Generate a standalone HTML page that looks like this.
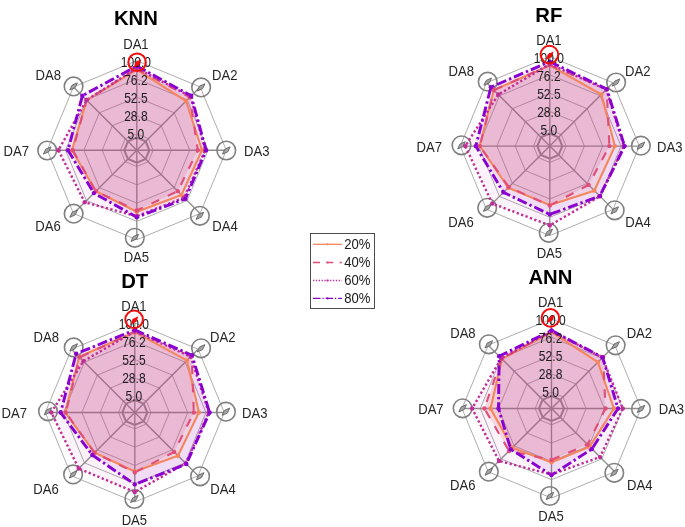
<!DOCTYPE html>
<html><head><meta charset="utf-8"><title>Radar charts</title><style>html,body{margin:0;padding:0;background:#fff}svg{display:block}</style></head><body>
<svg width="685" height="527" viewBox="0 0 685 527" font-family="'Liberation Sans', sans-serif">
<rect width="100%" height="100%" fill="#fff"/>
<g><polygon points="136.80,133.90 148.33,138.67 153.10,150.20 148.33,161.73 136.80,166.50 125.27,161.73 120.50,150.20 125.27,138.67" fill="none" stroke="#989898" stroke-width="0.8"/>
<polygon points="136.80,115.60 161.27,125.73 171.40,150.20 161.27,174.67 136.80,184.80 112.33,174.67 102.20,150.20 112.33,125.73" fill="none" stroke="#989898" stroke-width="0.8"/>
<polygon points="136.80,97.30 174.21,112.79 189.70,150.20 174.21,187.61 136.80,203.10 99.39,187.61 83.90,150.20 99.39,112.79" fill="none" stroke="#989898" stroke-width="0.8"/>
<polygon points="136.80,79.00 187.15,99.85 208.00,150.20 187.15,200.55 136.80,221.40 86.45,200.55 65.60,150.20 86.45,99.85" fill="none" stroke="#989898" stroke-width="0.8"/>
<polygon points="136.80,60.70 200.09,86.91 226.30,150.20 200.09,213.49 136.80,239.70 73.51,213.49 47.30,150.20 73.51,86.91" fill="none" stroke="#989898" stroke-width="0.8"/>
<line x1="136.80" y1="150.20" x2="136.80" y2="60.70" stroke="#8e8e8e" stroke-width="1.35"/>
<line x1="136.80" y1="150.20" x2="200.09" y2="86.91" stroke="#8e8e8e" stroke-width="1.35"/>
<line x1="136.80" y1="150.20" x2="226.30" y2="150.20" stroke="#8e8e8e" stroke-width="1.35"/>
<line x1="136.80" y1="150.20" x2="200.09" y2="213.49" stroke="#8e8e8e" stroke-width="1.35"/>
<line x1="136.80" y1="150.20" x2="136.80" y2="239.70" stroke="#8e8e8e" stroke-width="1.35"/>
<line x1="136.80" y1="150.20" x2="73.51" y2="213.49" stroke="#8e8e8e" stroke-width="1.35"/>
<line x1="136.80" y1="150.20" x2="47.30" y2="150.20" stroke="#8e8e8e" stroke-width="1.35"/>
<line x1="136.80" y1="150.20" x2="73.51" y2="86.91" stroke="#8e8e8e" stroke-width="1.35"/>
<polygon points="136.80,137.70 145.64,141.36 149.30,150.20 145.64,159.04 136.80,162.70 127.96,159.04 124.30,150.20 127.96,141.36" fill="none" stroke="#8e8e8e" stroke-width="2.0"/>
<circle cx="201.10" cy="87.40" r="9.3" fill="none" stroke="#808080" stroke-width="1.6"/>
<path d="M-3.8,3.6 L-1.55,-1.3 L3.8,-3.6 L1.55,1.3 Z" transform="translate(201.10,87.40)" fill="#a4a4a4" stroke="#626262" stroke-width="0.9" stroke-linejoin="miter"/>
<circle cx="226.30" cy="150.50" r="9.3" fill="none" stroke="#808080" stroke-width="1.6"/>
<path d="M-3.8,3.6 L-1.55,-1.3 L3.8,-3.6 L1.55,1.3 Z" transform="translate(226.30,150.50)" fill="#a4a4a4" stroke="#626262" stroke-width="0.9" stroke-linejoin="miter"/>
<circle cx="199.90" cy="215.80" r="9.3" fill="none" stroke="#808080" stroke-width="1.6"/>
<path d="M-3.8,3.6 L-1.55,-1.3 L3.8,-3.6 L1.55,1.3 Z" transform="translate(199.90,215.80)" fill="#a4a4a4" stroke="#626262" stroke-width="0.9" stroke-linejoin="miter"/>
<circle cx="134.80" cy="237.85" r="9.3" fill="none" stroke="#808080" stroke-width="1.6"/>
<path d="M-3.8,3.6 L-1.55,-1.3 L3.8,-3.6 L1.55,1.3 Z" transform="translate(134.80,237.85)" fill="#a4a4a4" stroke="#626262" stroke-width="0.9" stroke-linejoin="miter"/>
<circle cx="73.65" cy="213.65" r="9.3" fill="none" stroke="#808080" stroke-width="1.6"/>
<path d="M-3.8,3.6 L-1.55,-1.3 L3.8,-3.6 L1.55,1.3 Z" transform="translate(73.65,213.65)" fill="#a4a4a4" stroke="#626262" stroke-width="0.9" stroke-linejoin="miter"/>
<circle cx="47.20" cy="150.50" r="9.3" fill="none" stroke="#808080" stroke-width="1.6"/>
<path d="M-3.8,3.6 L-1.55,-1.3 L3.8,-3.6 L1.55,1.3 Z" transform="translate(47.20,150.50)" fill="#a4a4a4" stroke="#626262" stroke-width="0.9" stroke-linejoin="miter"/>
<circle cx="73.57" cy="86.43" r="9.3" fill="none" stroke="#808080" stroke-width="1.6"/>
<path d="M-3.8,3.6 L-1.55,-1.3 L3.8,-3.6 L1.55,1.3 Z" transform="translate(73.57,86.43)" fill="#a4a4a4" stroke="#626262" stroke-width="0.9" stroke-linejoin="miter"/>
<polygon points="136.80,69.70 186.01,100.99 202.00,150.20 181.49,194.89 136.80,211.80 95.79,191.21 72.00,150.20 86.67,100.07" fill="#F4855C" fill-opacity="0.11" stroke="none"/>
<polygon points="136.80,68.70 189.83,97.17 197.80,150.20 177.74,191.14 136.80,210.50 95.79,191.21 72.80,150.20 86.67,100.07" fill="#DE4E78" fill-opacity="0.17" stroke="none"/>
<polygon points="136.80,68.20 190.54,96.46 205.30,150.20 184.18,197.58 136.80,216.20 84.69,202.31 58.40,150.20 86.60,100.00" fill="#BF2E98" fill-opacity="0.06" stroke="none"/>
<polygon points="136.80,66.00 191.18,95.82 206.10,150.20 185.38,198.78 136.80,217.20 93.88,193.12 68.00,150.20 82.35,95.75" fill="#8A00D0" fill-opacity="0.09" stroke="none"/>
<polygon points="136.80,69.70 186.01,100.99 202.00,150.20 181.49,194.89 136.80,211.80 95.79,191.21 72.00,150.20 86.67,100.07" fill="none" stroke="#F4855C" stroke-width="2.1" stroke-linejoin="miter"/>
<polygon points="136.80,68.70 189.83,97.17 197.80,150.20 177.74,191.14 136.80,210.50 95.79,191.21 72.80,150.20 86.67,100.07" fill="none" stroke="#DE4E78" stroke-width="2.1" stroke-linejoin="miter" stroke-dasharray="8.5 9.5"/>
<polygon points="136.80,68.20 190.54,96.46 205.30,150.20 184.18,197.58 136.80,216.20 84.69,202.31 58.40,150.20 86.60,100.00" fill="none" stroke="#BF2E98" stroke-width="2.4" stroke-linejoin="miter" stroke-dasharray="2.3 2.4"/>
<polygon points="136.80,66.00 191.18,95.82 206.10,150.20 185.38,198.78 136.80,217.20 93.88,193.12 68.00,150.20 82.35,95.75" fill="none" stroke="#8A00D0" stroke-width="2.9" stroke-linejoin="miter" stroke-dasharray="10 3 2.4 3"/>
<circle cx="136.80" cy="69.70" r="2.2" fill="#F4855C"/>
<circle cx="186.01" cy="100.99" r="2.2" fill="#F4855C"/>
<circle cx="202.00" cy="150.20" r="2.2" fill="#F4855C"/>
<circle cx="181.49" cy="194.89" r="2.2" fill="#F4855C"/>
<circle cx="136.80" cy="211.80" r="2.2" fill="#F4855C"/>
<circle cx="95.79" cy="191.21" r="2.2" fill="#F4855C"/>
<circle cx="72.00" cy="150.20" r="2.2" fill="#F4855C"/>
<circle cx="86.67" cy="100.07" r="2.2" fill="#F4855C"/>
<circle cx="136.80" cy="68.70" r="2.2" fill="#DE4E78"/>
<circle cx="189.83" cy="97.17" r="2.2" fill="#DE4E78"/>
<circle cx="197.80" cy="150.20" r="2.2" fill="#DE4E78"/>
<circle cx="177.74" cy="191.14" r="2.2" fill="#DE4E78"/>
<circle cx="136.80" cy="210.50" r="2.2" fill="#DE4E78"/>
<circle cx="95.79" cy="191.21" r="2.2" fill="#DE4E78"/>
<circle cx="72.80" cy="150.20" r="2.2" fill="#DE4E78"/>
<circle cx="86.67" cy="100.07" r="2.2" fill="#DE4E78"/>
<circle cx="136.80" cy="68.20" r="2.2" fill="#BF2E98"/>
<circle cx="190.54" cy="96.46" r="2.2" fill="#BF2E98"/>
<circle cx="205.30" cy="150.20" r="2.2" fill="#BF2E98"/>
<circle cx="184.18" cy="197.58" r="2.2" fill="#BF2E98"/>
<circle cx="136.80" cy="216.20" r="2.2" fill="#BF2E98"/>
<circle cx="84.69" cy="202.31" r="2.2" fill="#BF2E98"/>
<circle cx="58.40" cy="150.20" r="2.2" fill="#BF2E98"/>
<circle cx="86.60" cy="100.00" r="2.2" fill="#BF2E98"/>
<circle cx="136.80" cy="66.00" r="2.2" fill="#8A00D0"/>
<circle cx="191.18" cy="95.82" r="2.2" fill="#8A00D0"/>
<circle cx="206.10" cy="150.20" r="2.2" fill="#8A00D0"/>
<circle cx="185.38" cy="198.78" r="2.2" fill="#8A00D0"/>
<circle cx="136.80" cy="217.20" r="2.2" fill="#8A00D0"/>
<circle cx="93.88" cy="193.12" r="2.2" fill="#8A00D0"/>
<circle cx="68.00" cy="150.20" r="2.2" fill="#8A00D0"/>
<circle cx="82.35" cy="95.75" r="2.2" fill="#8A00D0"/>
<text transform="translate(135.90,67.00) scale(0.875,1)" font-size="13.8" text-anchor="middle" fill="#1c1c1c">100.0</text>
<text transform="translate(135.90,85.00) scale(0.875,1)" font-size="13.8" text-anchor="middle" fill="#1c1c1c">76.2</text>
<text transform="translate(135.90,103.00) scale(0.875,1)" font-size="13.8" text-anchor="middle" fill="#1c1c1c">52.5</text>
<text transform="translate(135.90,121.00) scale(0.875,1)" font-size="13.8" text-anchor="middle" fill="#1c1c1c">28.8</text>
<text transform="translate(135.90,139.00) scale(0.875,1)" font-size="13.8" text-anchor="middle" fill="#1c1c1c">5.0</text>
<circle cx="137.10" cy="62.30" r="8.8" fill="none" stroke="#f20d0d" stroke-width="2"/>
<path d="M-3.8,4.3 L-2.0,-1.2 L3.8,-4.0 L2.0,1.5 Z" transform="translate(137.50,63.20)" fill="#f20d0d"/>
<text transform="translate(135.90,49.10) scale(0.950,1)" font-size="13.8" text-anchor="middle" fill="#262626">DA1</text>
<text transform="translate(224.69,79.91) scale(0.950,1)" font-size="13.8" text-anchor="middle" fill="#262626">DA2</text>
<text transform="translate(256.70,155.90) scale(0.950,1)" font-size="13.8" text-anchor="middle" fill="#262626">DA3</text>
<text transform="translate(224.99,231.29) scale(0.950,1)" font-size="13.8" text-anchor="middle" fill="#262626">DA4</text>
<text transform="translate(136.35,262.40) scale(0.950,1)" font-size="13.8" text-anchor="middle" fill="#262626">DA5</text>
<text transform="translate(48.01,231.29) scale(0.950,1)" font-size="13.8" text-anchor="middle" fill="#262626">DA6</text>
<text transform="translate(16.20,155.90) scale(0.950,1)" font-size="13.8" text-anchor="middle" fill="#262626">DA7</text>
<text transform="translate(48.21,79.91) scale(0.950,1)" font-size="13.8" text-anchor="middle" fill="#262626">DA8</text>
<text transform="translate(135.90,25.00) scale(1.000,1)" font-size="20.3" text-anchor="middle" fill="#000" font-weight="bold">KNN</text></g>
<g><polygon points="549.80,129.80 561.33,134.57 566.10,146.10 561.33,157.63 549.80,162.40 538.27,157.63 533.50,146.10 538.27,134.57" fill="none" stroke="#989898" stroke-width="0.8"/>
<polygon points="549.80,111.50 574.27,121.63 584.40,146.10 574.27,170.57 549.80,180.70 525.33,170.57 515.20,146.10 525.33,121.63" fill="none" stroke="#989898" stroke-width="0.8"/>
<polygon points="549.80,93.20 587.21,108.69 602.70,146.10 587.21,183.51 549.80,199.00 512.39,183.51 496.90,146.10 512.39,108.69" fill="none" stroke="#989898" stroke-width="0.8"/>
<polygon points="549.80,74.90 600.15,95.75 621.00,146.10 600.15,196.45 549.80,217.30 499.45,196.45 478.60,146.10 499.45,95.75" fill="none" stroke="#989898" stroke-width="0.8"/>
<polygon points="549.80,56.60 613.09,82.81 639.30,146.10 613.09,209.39 549.80,235.60 486.51,209.39 460.30,146.10 486.51,82.81" fill="none" stroke="#989898" stroke-width="0.8"/>
<line x1="549.80" y1="146.10" x2="549.80" y2="56.60" stroke="#8e8e8e" stroke-width="1.35"/>
<line x1="549.80" y1="146.10" x2="613.09" y2="82.81" stroke="#8e8e8e" stroke-width="1.35"/>
<line x1="549.80" y1="146.10" x2="639.30" y2="146.10" stroke="#8e8e8e" stroke-width="1.35"/>
<line x1="549.80" y1="146.10" x2="613.09" y2="209.39" stroke="#8e8e8e" stroke-width="1.35"/>
<line x1="549.80" y1="146.10" x2="549.80" y2="235.60" stroke="#8e8e8e" stroke-width="1.35"/>
<line x1="549.80" y1="146.10" x2="486.51" y2="209.39" stroke="#8e8e8e" stroke-width="1.35"/>
<line x1="549.80" y1="146.10" x2="460.30" y2="146.10" stroke="#8e8e8e" stroke-width="1.35"/>
<line x1="549.80" y1="146.10" x2="486.51" y2="82.81" stroke="#8e8e8e" stroke-width="1.35"/>
<polygon points="549.80,133.60 558.64,137.26 562.30,146.10 558.64,154.94 549.80,158.60 540.96,154.94 537.30,146.10 540.96,137.26" fill="none" stroke="#8e8e8e" stroke-width="2.0"/>
<circle cx="616.10" cy="82.50" r="9.3" fill="none" stroke="#808080" stroke-width="1.6"/>
<path d="M-3.8,3.6 L-1.55,-1.3 L3.8,-3.6 L1.55,1.3 Z" transform="translate(616.10,82.50)" fill="#a4a4a4" stroke="#626262" stroke-width="0.9" stroke-linejoin="miter"/>
<circle cx="640.90" cy="145.70" r="9.3" fill="none" stroke="#808080" stroke-width="1.6"/>
<path d="M-3.8,3.6 L-1.55,-1.3 L3.8,-3.6 L1.55,1.3 Z" transform="translate(640.90,145.70)" fill="#a4a4a4" stroke="#626262" stroke-width="0.9" stroke-linejoin="miter"/>
<circle cx="614.70" cy="210.35" r="9.3" fill="none" stroke="#808080" stroke-width="1.6"/>
<path d="M-3.8,3.6 L-1.55,-1.3 L3.8,-3.6 L1.55,1.3 Z" transform="translate(614.70,210.35)" fill="#a4a4a4" stroke="#626262" stroke-width="0.9" stroke-linejoin="miter"/>
<circle cx="548.70" cy="232.80" r="9.3" fill="none" stroke="#808080" stroke-width="1.6"/>
<path d="M-3.8,3.6 L-1.55,-1.3 L3.8,-3.6 L1.55,1.3 Z" transform="translate(548.70,232.80)" fill="#a4a4a4" stroke="#626262" stroke-width="0.9" stroke-linejoin="miter"/>
<circle cx="487.20" cy="207.80" r="9.3" fill="none" stroke="#808080" stroke-width="1.6"/>
<path d="M-3.8,3.6 L-1.55,-1.3 L3.8,-3.6 L1.55,1.3 Z" transform="translate(487.20,207.80)" fill="#a4a4a4" stroke="#626262" stroke-width="0.9" stroke-linejoin="miter"/>
<circle cx="461.50" cy="145.30" r="9.3" fill="none" stroke="#808080" stroke-width="1.6"/>
<path d="M-3.8,3.6 L-1.55,-1.3 L3.8,-3.6 L1.55,1.3 Z" transform="translate(461.50,145.30)" fill="#a4a4a4" stroke="#626262" stroke-width="0.9" stroke-linejoin="miter"/>
<circle cx="487.70" cy="81.70" r="9.3" fill="none" stroke="#808080" stroke-width="1.6"/>
<path d="M-3.8,3.6 L-1.55,-1.3 L3.8,-3.6 L1.55,1.3 Z" transform="translate(487.70,81.70)" fill="#a4a4a4" stroke="#626262" stroke-width="0.9" stroke-linejoin="miter"/>
<polygon points="549.80,65.30 601.35,94.55 614.90,146.10 594.35,190.65 549.80,205.10 508.22,187.68 479.80,146.10 493.73,90.03" fill="#F4855C" fill-opacity="0.11" stroke="none"/>
<polygon points="549.80,65.10 606.72,89.18 609.40,146.10 588.62,184.92 549.80,205.50 508.79,187.11 479.80,146.10 493.94,90.24" fill="#DE4E78" fill-opacity="0.17" stroke="none"/>
<polygon points="549.80,64.10 606.37,89.53 623.80,146.10 600.00,196.30 549.80,225.40 492.31,203.59 465.30,146.10 498.25,94.55" fill="#BF2E98" fill-opacity="0.06" stroke="none"/>
<polygon points="549.80,61.60 606.79,89.11 624.60,146.10 599.79,196.09 549.80,214.40 503.48,192.42 475.80,146.10 490.90,87.20" fill="#8A00D0" fill-opacity="0.09" stroke="none"/>
<polygon points="549.80,65.30 601.35,94.55 614.90,146.10 594.35,190.65 549.80,205.10 508.22,187.68 479.80,146.10 493.73,90.03" fill="none" stroke="#F4855C" stroke-width="2.1" stroke-linejoin="miter"/>
<polygon points="549.80,65.10 606.72,89.18 609.40,146.10 588.62,184.92 549.80,205.50 508.79,187.11 479.80,146.10 493.94,90.24" fill="none" stroke="#DE4E78" stroke-width="2.1" stroke-linejoin="miter" stroke-dasharray="8.5 9.5"/>
<polygon points="549.80,64.10 606.37,89.53 623.80,146.10 600.00,196.30 549.80,225.40 492.31,203.59 465.30,146.10 498.25,94.55" fill="none" stroke="#BF2E98" stroke-width="2.4" stroke-linejoin="miter" stroke-dasharray="2.3 2.4"/>
<polygon points="549.80,61.60 606.79,89.11 624.60,146.10 599.79,196.09 549.80,214.40 503.48,192.42 475.80,146.10 490.90,87.20" fill="none" stroke="#8A00D0" stroke-width="2.9" stroke-linejoin="miter" stroke-dasharray="10 3 2.4 3"/>
<circle cx="549.80" cy="65.30" r="2.2" fill="#F4855C"/>
<circle cx="601.35" cy="94.55" r="2.2" fill="#F4855C"/>
<circle cx="614.90" cy="146.10" r="2.2" fill="#F4855C"/>
<circle cx="594.35" cy="190.65" r="2.2" fill="#F4855C"/>
<circle cx="549.80" cy="205.10" r="2.2" fill="#F4855C"/>
<circle cx="508.22" cy="187.68" r="2.2" fill="#F4855C"/>
<circle cx="479.80" cy="146.10" r="2.2" fill="#F4855C"/>
<circle cx="493.73" cy="90.03" r="2.2" fill="#F4855C"/>
<circle cx="549.80" cy="65.10" r="2.2" fill="#DE4E78"/>
<circle cx="606.72" cy="89.18" r="2.2" fill="#DE4E78"/>
<circle cx="609.40" cy="146.10" r="2.2" fill="#DE4E78"/>
<circle cx="588.62" cy="184.92" r="2.2" fill="#DE4E78"/>
<circle cx="549.80" cy="205.50" r="2.2" fill="#DE4E78"/>
<circle cx="508.79" cy="187.11" r="2.2" fill="#DE4E78"/>
<circle cx="479.80" cy="146.10" r="2.2" fill="#DE4E78"/>
<circle cx="493.94" cy="90.24" r="2.2" fill="#DE4E78"/>
<circle cx="549.80" cy="64.10" r="2.2" fill="#BF2E98"/>
<circle cx="606.37" cy="89.53" r="2.2" fill="#BF2E98"/>
<circle cx="623.80" cy="146.10" r="2.2" fill="#BF2E98"/>
<circle cx="600.00" cy="196.30" r="2.2" fill="#BF2E98"/>
<circle cx="549.80" cy="225.40" r="2.2" fill="#BF2E98"/>
<circle cx="492.31" cy="203.59" r="2.2" fill="#BF2E98"/>
<circle cx="465.30" cy="146.10" r="2.2" fill="#BF2E98"/>
<circle cx="498.25" cy="94.55" r="2.2" fill="#BF2E98"/>
<circle cx="549.80" cy="61.60" r="2.2" fill="#8A00D0"/>
<circle cx="606.79" cy="89.11" r="2.2" fill="#8A00D0"/>
<circle cx="624.60" cy="146.10" r="2.2" fill="#8A00D0"/>
<circle cx="599.79" cy="196.09" r="2.2" fill="#8A00D0"/>
<circle cx="549.80" cy="214.40" r="2.2" fill="#8A00D0"/>
<circle cx="503.48" cy="192.42" r="2.2" fill="#8A00D0"/>
<circle cx="475.80" cy="146.10" r="2.2" fill="#8A00D0"/>
<circle cx="490.90" cy="87.20" r="2.2" fill="#8A00D0"/>
<text transform="translate(548.90,62.90) scale(0.875,1)" font-size="13.8" text-anchor="middle" fill="#1c1c1c">100.0</text>
<text transform="translate(548.90,80.90) scale(0.875,1)" font-size="13.8" text-anchor="middle" fill="#1c1c1c">76.2</text>
<text transform="translate(548.90,98.90) scale(0.875,1)" font-size="13.8" text-anchor="middle" fill="#1c1c1c">52.5</text>
<text transform="translate(548.90,116.90) scale(0.875,1)" font-size="13.8" text-anchor="middle" fill="#1c1c1c">28.8</text>
<text transform="translate(548.90,134.90) scale(0.875,1)" font-size="13.8" text-anchor="middle" fill="#1c1c1c">5.0</text>
<circle cx="549.40" cy="54.60" r="8.8" fill="none" stroke="#f20d0d" stroke-width="2"/>
<path d="M-3.8,4.3 L-2.0,-1.2 L3.8,-4.0 L2.0,1.5 Z" transform="translate(549.80,55.50)" fill="#f20d0d"/>
<text transform="translate(548.90,45.00) scale(0.950,1)" font-size="13.8" text-anchor="middle" fill="#262626">DA1</text>
<text transform="translate(637.69,75.81) scale(0.950,1)" font-size="13.8" text-anchor="middle" fill="#262626">DA2</text>
<text transform="translate(669.70,151.80) scale(0.950,1)" font-size="13.8" text-anchor="middle" fill="#262626">DA3</text>
<text transform="translate(637.99,227.19) scale(0.950,1)" font-size="13.8" text-anchor="middle" fill="#262626">DA4</text>
<text transform="translate(549.35,258.30) scale(0.950,1)" font-size="13.8" text-anchor="middle" fill="#262626">DA5</text>
<text transform="translate(461.01,227.19) scale(0.950,1)" font-size="13.8" text-anchor="middle" fill="#262626">DA6</text>
<text transform="translate(429.20,151.80) scale(0.950,1)" font-size="13.8" text-anchor="middle" fill="#262626">DA7</text>
<text transform="translate(461.21,75.81) scale(0.950,1)" font-size="13.8" text-anchor="middle" fill="#262626">DA8</text>
<text transform="translate(548.80,21.60) scale(1.000,1)" font-size="20.3" text-anchor="middle" fill="#000" font-weight="bold">RF</text></g>
<g><polygon points="134.80,396.20 146.33,400.97 151.10,412.50 146.33,424.03 134.80,428.80 123.27,424.03 118.50,412.50 123.27,400.97" fill="none" stroke="#989898" stroke-width="0.8"/>
<polygon points="134.80,377.90 159.27,388.03 169.40,412.50 159.27,436.97 134.80,447.10 110.33,436.97 100.20,412.50 110.33,388.03" fill="none" stroke="#989898" stroke-width="0.8"/>
<polygon points="134.80,359.60 172.21,375.09 187.70,412.50 172.21,449.91 134.80,465.40 97.39,449.91 81.90,412.50 97.39,375.09" fill="none" stroke="#989898" stroke-width="0.8"/>
<polygon points="134.80,341.30 185.15,362.15 206.00,412.50 185.15,462.85 134.80,483.70 84.45,462.85 63.60,412.50 84.45,362.15" fill="none" stroke="#989898" stroke-width="0.8"/>
<polygon points="134.80,323.00 198.09,349.21 224.30,412.50 198.09,475.79 134.80,502.00 71.51,475.79 45.30,412.50 71.51,349.21" fill="none" stroke="#989898" stroke-width="0.8"/>
<line x1="134.80" y1="412.50" x2="134.80" y2="323.00" stroke="#8e8e8e" stroke-width="1.35"/>
<line x1="134.80" y1="412.50" x2="198.09" y2="349.21" stroke="#8e8e8e" stroke-width="1.35"/>
<line x1="134.80" y1="412.50" x2="224.30" y2="412.50" stroke="#8e8e8e" stroke-width="1.35"/>
<line x1="134.80" y1="412.50" x2="198.09" y2="475.79" stroke="#8e8e8e" stroke-width="1.35"/>
<line x1="134.80" y1="412.50" x2="134.80" y2="502.00" stroke="#8e8e8e" stroke-width="1.35"/>
<line x1="134.80" y1="412.50" x2="71.51" y2="475.79" stroke="#8e8e8e" stroke-width="1.35"/>
<line x1="134.80" y1="412.50" x2="45.30" y2="412.50" stroke="#8e8e8e" stroke-width="1.35"/>
<line x1="134.80" y1="412.50" x2="71.51" y2="349.21" stroke="#8e8e8e" stroke-width="1.35"/>
<polygon points="134.80,400.00 143.64,403.66 147.30,412.50 143.64,421.34 134.80,425.00 125.96,421.34 122.30,412.50 125.96,403.66" fill="none" stroke="#8e8e8e" stroke-width="2.0"/>
<circle cx="201.06" cy="348.30" r="9.3" fill="none" stroke="#808080" stroke-width="1.6"/>
<path d="M-3.8,3.6 L-1.55,-1.3 L3.8,-3.6 L1.55,1.3 Z" transform="translate(201.06,348.30)" fill="#a4a4a4" stroke="#626262" stroke-width="0.9" stroke-linejoin="miter"/>
<circle cx="225.95" cy="411.70" r="9.3" fill="none" stroke="#808080" stroke-width="1.6"/>
<path d="M-3.8,3.6 L-1.55,-1.3 L3.8,-3.6 L1.55,1.3 Z" transform="translate(225.95,411.70)" fill="#a4a4a4" stroke="#626262" stroke-width="0.9" stroke-linejoin="miter"/>
<circle cx="200.10" cy="476.30" r="9.3" fill="none" stroke="#808080" stroke-width="1.6"/>
<path d="M-3.8,3.6 L-1.55,-1.3 L3.8,-3.6 L1.55,1.3 Z" transform="translate(200.10,476.30)" fill="#a4a4a4" stroke="#626262" stroke-width="0.9" stroke-linejoin="miter"/>
<circle cx="134.40" cy="499.00" r="9.3" fill="none" stroke="#808080" stroke-width="1.6"/>
<path d="M-3.8,3.6 L-1.55,-1.3 L3.8,-3.6 L1.55,1.3 Z" transform="translate(134.40,499.00)" fill="#a4a4a4" stroke="#626262" stroke-width="0.9" stroke-linejoin="miter"/>
<circle cx="73.10" cy="474.40" r="9.3" fill="none" stroke="#808080" stroke-width="1.6"/>
<path d="M-3.8,3.6 L-1.55,-1.3 L3.8,-3.6 L1.55,1.3 Z" transform="translate(73.10,474.40)" fill="#a4a4a4" stroke="#626262" stroke-width="0.9" stroke-linejoin="miter"/>
<circle cx="48.00" cy="411.30" r="9.3" fill="none" stroke="#808080" stroke-width="1.6"/>
<path d="M-3.8,3.6 L-1.55,-1.3 L3.8,-3.6 L1.55,1.3 Z" transform="translate(48.00,411.30)" fill="#a4a4a4" stroke="#626262" stroke-width="0.9" stroke-linejoin="miter"/>
<circle cx="73.70" cy="347.40" r="9.3" fill="none" stroke="#808080" stroke-width="1.6"/>
<path d="M-3.8,3.6 L-1.55,-1.3 L3.8,-3.6 L1.55,1.3 Z" transform="translate(73.70,347.40)" fill="#a4a4a4" stroke="#626262" stroke-width="0.9" stroke-linejoin="miter"/>
<polygon points="134.80,332.20 186.91,360.39 198.90,412.50 178.00,455.70 134.80,471.50 94.64,452.66 65.20,412.50 79.15,356.85" fill="#F4855C" fill-opacity="0.11" stroke="none"/>
<polygon points="134.80,331.50 191.72,355.58 193.80,412.50 174.19,451.89 134.80,472.50 94.49,452.81 65.80,412.50 79.65,357.35" fill="#DE4E78" fill-opacity="0.17" stroke="none"/>
<polygon points="134.80,331.50 190.66,356.64 208.80,412.50 185.71,463.41 134.80,492.00 78.73,468.57 51.30,412.50 83.39,361.09" fill="#BF2E98" fill-opacity="0.06" stroke="none"/>
<polygon points="134.80,329.90 192.00,355.30 209.60,412.50 186.35,464.05 134.80,484.40 92.30,455.00 60.60,412.50 76.11,353.81" fill="#8A00D0" fill-opacity="0.09" stroke="none"/>
<polygon points="134.80,332.20 186.91,360.39 198.90,412.50 178.00,455.70 134.80,471.50 94.64,452.66 65.20,412.50 79.15,356.85" fill="none" stroke="#F4855C" stroke-width="2.1" stroke-linejoin="miter"/>
<polygon points="134.80,331.50 191.72,355.58 193.80,412.50 174.19,451.89 134.80,472.50 94.49,452.81 65.80,412.50 79.65,357.35" fill="none" stroke="#DE4E78" stroke-width="2.1" stroke-linejoin="miter" stroke-dasharray="8.5 9.5"/>
<polygon points="134.80,331.50 190.66,356.64 208.80,412.50 185.71,463.41 134.80,492.00 78.73,468.57 51.30,412.50 83.39,361.09" fill="none" stroke="#BF2E98" stroke-width="2.4" stroke-linejoin="miter" stroke-dasharray="2.3 2.4"/>
<polygon points="134.80,329.90 192.00,355.30 209.60,412.50 186.35,464.05 134.80,484.40 92.30,455.00 60.60,412.50 76.11,353.81" fill="none" stroke="#8A00D0" stroke-width="2.9" stroke-linejoin="miter" stroke-dasharray="10 3 2.4 3"/>
<circle cx="134.80" cy="332.20" r="2.2" fill="#F4855C"/>
<circle cx="186.91" cy="360.39" r="2.2" fill="#F4855C"/>
<circle cx="198.90" cy="412.50" r="2.2" fill="#F4855C"/>
<circle cx="178.00" cy="455.70" r="2.2" fill="#F4855C"/>
<circle cx="134.80" cy="471.50" r="2.2" fill="#F4855C"/>
<circle cx="94.64" cy="452.66" r="2.2" fill="#F4855C"/>
<circle cx="65.20" cy="412.50" r="2.2" fill="#F4855C"/>
<circle cx="79.15" cy="356.85" r="2.2" fill="#F4855C"/>
<circle cx="134.80" cy="331.50" r="2.2" fill="#DE4E78"/>
<circle cx="191.72" cy="355.58" r="2.2" fill="#DE4E78"/>
<circle cx="193.80" cy="412.50" r="2.2" fill="#DE4E78"/>
<circle cx="174.19" cy="451.89" r="2.2" fill="#DE4E78"/>
<circle cx="134.80" cy="472.50" r="2.2" fill="#DE4E78"/>
<circle cx="94.49" cy="452.81" r="2.2" fill="#DE4E78"/>
<circle cx="65.80" cy="412.50" r="2.2" fill="#DE4E78"/>
<circle cx="79.65" cy="357.35" r="2.2" fill="#DE4E78"/>
<circle cx="134.80" cy="331.50" r="2.2" fill="#BF2E98"/>
<circle cx="190.66" cy="356.64" r="2.2" fill="#BF2E98"/>
<circle cx="208.80" cy="412.50" r="2.2" fill="#BF2E98"/>
<circle cx="185.71" cy="463.41" r="2.2" fill="#BF2E98"/>
<circle cx="134.80" cy="492.00" r="2.2" fill="#BF2E98"/>
<circle cx="78.73" cy="468.57" r="2.2" fill="#BF2E98"/>
<circle cx="51.30" cy="412.50" r="2.2" fill="#BF2E98"/>
<circle cx="83.39" cy="361.09" r="2.2" fill="#BF2E98"/>
<circle cx="134.80" cy="329.90" r="2.2" fill="#8A00D0"/>
<circle cx="192.00" cy="355.30" r="2.2" fill="#8A00D0"/>
<circle cx="209.60" cy="412.50" r="2.2" fill="#8A00D0"/>
<circle cx="186.35" cy="464.05" r="2.2" fill="#8A00D0"/>
<circle cx="134.80" cy="484.40" r="2.2" fill="#8A00D0"/>
<circle cx="92.30" cy="455.00" r="2.2" fill="#8A00D0"/>
<circle cx="60.60" cy="412.50" r="2.2" fill="#8A00D0"/>
<circle cx="76.11" cy="353.81" r="2.2" fill="#8A00D0"/>
<text transform="translate(133.90,329.30) scale(0.875,1)" font-size="13.8" text-anchor="middle" fill="#1c1c1c">100.0</text>
<text transform="translate(133.90,347.30) scale(0.875,1)" font-size="13.8" text-anchor="middle" fill="#1c1c1c">76.2</text>
<text transform="translate(133.90,365.30) scale(0.875,1)" font-size="13.8" text-anchor="middle" fill="#1c1c1c">52.5</text>
<text transform="translate(133.90,383.30) scale(0.875,1)" font-size="13.8" text-anchor="middle" fill="#1c1c1c">28.8</text>
<text transform="translate(133.90,401.30) scale(0.875,1)" font-size="13.8" text-anchor="middle" fill="#1c1c1c">5.0</text>
<circle cx="134.10" cy="319.40" r="8.8" fill="none" stroke="#f20d0d" stroke-width="2"/>
<path d="M-3.8,4.3 L-2.0,-1.2 L3.8,-4.0 L2.0,1.5 Z" transform="translate(134.50,320.30)" fill="#f20d0d"/>
<text transform="translate(133.90,311.40) scale(0.950,1)" font-size="13.8" text-anchor="middle" fill="#262626">DA1</text>
<text transform="translate(222.69,342.21) scale(0.950,1)" font-size="13.8" text-anchor="middle" fill="#262626">DA2</text>
<text transform="translate(254.70,418.20) scale(0.950,1)" font-size="13.8" text-anchor="middle" fill="#262626">DA3</text>
<text transform="translate(222.99,493.59) scale(0.950,1)" font-size="13.8" text-anchor="middle" fill="#262626">DA4</text>
<text transform="translate(134.35,524.70) scale(0.950,1)" font-size="13.8" text-anchor="middle" fill="#262626">DA5</text>
<text transform="translate(46.01,493.59) scale(0.950,1)" font-size="13.8" text-anchor="middle" fill="#262626">DA6</text>
<text transform="translate(14.20,418.20) scale(0.950,1)" font-size="13.8" text-anchor="middle" fill="#262626">DA7</text>
<text transform="translate(46.21,342.21) scale(0.950,1)" font-size="13.8" text-anchor="middle" fill="#262626">DA8</text>
<text transform="translate(134.70,288.10) scale(1.000,1)" font-size="20.3" text-anchor="middle" fill="#000" font-weight="bold">DT</text></g>
<g><polygon points="551.50,392.20 563.03,396.97 567.80,408.50 563.03,420.03 551.50,424.80 539.97,420.03 535.20,408.50 539.97,396.97" fill="none" stroke="#989898" stroke-width="0.8"/>
<polygon points="551.50,373.90 575.97,384.03 586.10,408.50 575.97,432.97 551.50,443.10 527.03,432.97 516.90,408.50 527.03,384.03" fill="none" stroke="#989898" stroke-width="0.8"/>
<polygon points="551.50,355.60 588.91,371.09 604.40,408.50 588.91,445.91 551.50,461.40 514.09,445.91 498.60,408.50 514.09,371.09" fill="none" stroke="#989898" stroke-width="0.8"/>
<polygon points="551.50,337.30 601.85,358.15 622.70,408.50 601.85,458.85 551.50,479.70 501.15,458.85 480.30,408.50 501.15,358.15" fill="none" stroke="#989898" stroke-width="0.8"/>
<polygon points="551.50,319.00 614.79,345.21 641.00,408.50 614.79,471.79 551.50,498.00 488.21,471.79 462.00,408.50 488.21,345.21" fill="none" stroke="#989898" stroke-width="0.8"/>
<line x1="551.50" y1="408.50" x2="551.50" y2="319.00" stroke="#8e8e8e" stroke-width="1.35"/>
<line x1="551.50" y1="408.50" x2="614.79" y2="345.21" stroke="#8e8e8e" stroke-width="1.35"/>
<line x1="551.50" y1="408.50" x2="641.00" y2="408.50" stroke="#8e8e8e" stroke-width="1.35"/>
<line x1="551.50" y1="408.50" x2="614.79" y2="471.79" stroke="#8e8e8e" stroke-width="1.35"/>
<line x1="551.50" y1="408.50" x2="551.50" y2="498.00" stroke="#8e8e8e" stroke-width="1.35"/>
<line x1="551.50" y1="408.50" x2="488.21" y2="471.79" stroke="#8e8e8e" stroke-width="1.35"/>
<line x1="551.50" y1="408.50" x2="462.00" y2="408.50" stroke="#8e8e8e" stroke-width="1.35"/>
<line x1="551.50" y1="408.50" x2="488.21" y2="345.21" stroke="#8e8e8e" stroke-width="1.35"/>
<polygon points="551.50,396.00 560.34,399.66 564.00,408.50 560.34,417.34 551.50,421.00 542.66,417.34 539.00,408.50 542.66,399.66" fill="none" stroke="#8e8e8e" stroke-width="2.0"/>
<circle cx="615.60" cy="345.30" r="9.3" fill="none" stroke="#808080" stroke-width="1.6"/>
<path d="M-3.8,3.6 L-1.55,-1.3 L3.8,-3.6 L1.55,1.3 Z" transform="translate(615.60,345.30)" fill="#a4a4a4" stroke="#626262" stroke-width="0.9" stroke-linejoin="miter"/>
<circle cx="641.00" cy="408.90" r="9.3" fill="none" stroke="#808080" stroke-width="1.6"/>
<path d="M-3.8,3.6 L-1.55,-1.3 L3.8,-3.6 L1.55,1.3 Z" transform="translate(641.00,408.90)" fill="#a4a4a4" stroke="#626262" stroke-width="0.9" stroke-linejoin="miter"/>
<circle cx="614.30" cy="472.80" r="9.3" fill="none" stroke="#808080" stroke-width="1.6"/>
<path d="M-3.8,3.6 L-1.55,-1.3 L3.8,-3.6 L1.55,1.3 Z" transform="translate(614.30,472.80)" fill="#a4a4a4" stroke="#626262" stroke-width="0.9" stroke-linejoin="miter"/>
<circle cx="549.90" cy="496.00" r="9.3" fill="none" stroke="#808080" stroke-width="1.6"/>
<path d="M-3.8,3.6 L-1.55,-1.3 L3.8,-3.6 L1.55,1.3 Z" transform="translate(549.90,496.00)" fill="#a4a4a4" stroke="#626262" stroke-width="0.9" stroke-linejoin="miter"/>
<circle cx="488.80" cy="471.70" r="9.3" fill="none" stroke="#808080" stroke-width="1.6"/>
<path d="M-3.8,3.6 L-1.55,-1.3 L3.8,-3.6 L1.55,1.3 Z" transform="translate(488.80,471.70)" fill="#a4a4a4" stroke="#626262" stroke-width="0.9" stroke-linejoin="miter"/>
<circle cx="462.60" cy="408.30" r="9.3" fill="none" stroke="#808080" stroke-width="1.6"/>
<path d="M-3.8,3.6 L-1.55,-1.3 L3.8,-3.6 L1.55,1.3 Z" transform="translate(462.60,408.30)" fill="#a4a4a4" stroke="#626262" stroke-width="0.9" stroke-linejoin="miter"/>
<circle cx="488.80" cy="344.30" r="9.3" fill="none" stroke="#808080" stroke-width="1.6"/>
<path d="M-3.8,3.6 L-1.55,-1.3 L3.8,-3.6 L1.55,1.3 Z" transform="translate(488.80,344.30)" fill="#a4a4a4" stroke="#626262" stroke-width="0.9" stroke-linejoin="miter"/>
<polygon points="551.50,332.00 597.89,362.11 613.90,408.50 589.68,446.68 551.50,462.30 512.26,447.74 490.50,408.50 502.00,359.00" fill="#F4855C" fill-opacity="0.11" stroke="none"/>
<polygon points="551.50,331.50 603.12,356.88 605.50,408.50 587.56,444.56 551.50,459.90 509.07,450.93 484.40,408.50 501.65,358.65" fill="#DE4E78" fill-opacity="0.17" stroke="none"/>
<polygon points="551.50,331.00 602.41,357.59 622.80,408.50 600.08,457.08 551.50,474.50 499.03,460.97 472.10,408.50 501.30,358.30" fill="#BF2E98" fill-opacity="0.06" stroke="none"/>
<polygon points="551.50,330.50 602.62,357.38 618.00,408.50 591.95,448.95 551.50,475.10 510.77,449.23 498.50,408.50 499.17,356.17" fill="#8A00D0" fill-opacity="0.09" stroke="none"/>
<polygon points="551.50,332.00 597.89,362.11 613.90,408.50 589.68,446.68 551.50,462.30 512.26,447.74 490.50,408.50 502.00,359.00" fill="none" stroke="#F4855C" stroke-width="2.1" stroke-linejoin="miter"/>
<polygon points="551.50,331.50 603.12,356.88 605.50,408.50 587.56,444.56 551.50,459.90 509.07,450.93 484.40,408.50 501.65,358.65" fill="none" stroke="#DE4E78" stroke-width="2.1" stroke-linejoin="miter" stroke-dasharray="8.5 9.5"/>
<polygon points="551.50,331.00 602.41,357.59 622.80,408.50 600.08,457.08 551.50,474.50 499.03,460.97 472.10,408.50 501.30,358.30" fill="none" stroke="#BF2E98" stroke-width="2.4" stroke-linejoin="miter" stroke-dasharray="2.3 2.4"/>
<polygon points="551.50,330.50 602.62,357.38 618.00,408.50 591.95,448.95 551.50,475.10 510.77,449.23 498.50,408.50 499.17,356.17" fill="none" stroke="#8A00D0" stroke-width="2.9" stroke-linejoin="miter" stroke-dasharray="10 3 2.4 3"/>
<circle cx="551.50" cy="332.00" r="2.2" fill="#F4855C"/>
<circle cx="597.89" cy="362.11" r="2.2" fill="#F4855C"/>
<circle cx="613.90" cy="408.50" r="2.2" fill="#F4855C"/>
<circle cx="589.68" cy="446.68" r="2.2" fill="#F4855C"/>
<circle cx="551.50" cy="462.30" r="2.2" fill="#F4855C"/>
<circle cx="512.26" cy="447.74" r="2.2" fill="#F4855C"/>
<circle cx="490.50" cy="408.50" r="2.2" fill="#F4855C"/>
<circle cx="502.00" cy="359.00" r="2.2" fill="#F4855C"/>
<circle cx="551.50" cy="331.50" r="2.2" fill="#DE4E78"/>
<circle cx="603.12" cy="356.88" r="2.2" fill="#DE4E78"/>
<circle cx="605.50" cy="408.50" r="2.2" fill="#DE4E78"/>
<circle cx="587.56" cy="444.56" r="2.2" fill="#DE4E78"/>
<circle cx="551.50" cy="459.90" r="2.2" fill="#DE4E78"/>
<circle cx="509.07" cy="450.93" r="2.2" fill="#DE4E78"/>
<circle cx="484.40" cy="408.50" r="2.2" fill="#DE4E78"/>
<circle cx="501.65" cy="358.65" r="2.2" fill="#DE4E78"/>
<circle cx="551.50" cy="331.00" r="2.2" fill="#BF2E98"/>
<circle cx="602.41" cy="357.59" r="2.2" fill="#BF2E98"/>
<circle cx="622.80" cy="408.50" r="2.2" fill="#BF2E98"/>
<circle cx="600.08" cy="457.08" r="2.2" fill="#BF2E98"/>
<circle cx="551.50" cy="474.50" r="2.2" fill="#BF2E98"/>
<circle cx="499.03" cy="460.97" r="2.2" fill="#BF2E98"/>
<circle cx="472.10" cy="408.50" r="2.2" fill="#BF2E98"/>
<circle cx="501.30" cy="358.30" r="2.2" fill="#BF2E98"/>
<circle cx="551.50" cy="330.50" r="2.2" fill="#8A00D0"/>
<circle cx="602.62" cy="357.38" r="2.2" fill="#8A00D0"/>
<circle cx="618.00" cy="408.50" r="2.2" fill="#8A00D0"/>
<circle cx="591.95" cy="448.95" r="2.2" fill="#8A00D0"/>
<circle cx="551.50" cy="475.10" r="2.2" fill="#8A00D0"/>
<circle cx="510.77" cy="449.23" r="2.2" fill="#8A00D0"/>
<circle cx="498.50" cy="408.50" r="2.2" fill="#8A00D0"/>
<circle cx="499.17" cy="356.17" r="2.2" fill="#8A00D0"/>
<text transform="translate(550.60,325.30) scale(0.875,1)" font-size="13.8" text-anchor="middle" fill="#1c1c1c">100.0</text>
<text transform="translate(550.60,343.30) scale(0.875,1)" font-size="13.8" text-anchor="middle" fill="#1c1c1c">76.2</text>
<text transform="translate(550.60,361.30) scale(0.875,1)" font-size="13.8" text-anchor="middle" fill="#1c1c1c">52.5</text>
<text transform="translate(550.60,379.30) scale(0.875,1)" font-size="13.8" text-anchor="middle" fill="#1c1c1c">28.8</text>
<text transform="translate(550.60,397.30) scale(0.875,1)" font-size="13.8" text-anchor="middle" fill="#1c1c1c">5.0</text>
<circle cx="550.40" cy="317.90" r="8.8" fill="none" stroke="#f20d0d" stroke-width="2"/>
<path d="M-3.8,4.3 L-2.0,-1.2 L3.8,-4.0 L2.0,1.5 Z" transform="translate(550.80,318.80)" fill="#f20d0d"/>
<text transform="translate(550.60,307.40) scale(0.950,1)" font-size="13.8" text-anchor="middle" fill="#262626">DA1</text>
<text transform="translate(639.39,338.21) scale(0.950,1)" font-size="13.8" text-anchor="middle" fill="#262626">DA2</text>
<text transform="translate(671.40,414.20) scale(0.950,1)" font-size="13.8" text-anchor="middle" fill="#262626">DA3</text>
<text transform="translate(639.69,489.59) scale(0.950,1)" font-size="13.8" text-anchor="middle" fill="#262626">DA4</text>
<text transform="translate(551.05,520.70) scale(0.950,1)" font-size="13.8" text-anchor="middle" fill="#262626">DA5</text>
<text transform="translate(462.71,489.59) scale(0.950,1)" font-size="13.8" text-anchor="middle" fill="#262626">DA6</text>
<text transform="translate(430.90,414.20) scale(0.950,1)" font-size="13.8" text-anchor="middle" fill="#262626">DA7</text>
<text transform="translate(462.91,338.21) scale(0.950,1)" font-size="13.8" text-anchor="middle" fill="#262626">DA8</text>
<text transform="translate(550.40,284.10) scale(1.000,1)" font-size="20.3" text-anchor="middle" fill="#000" font-weight="bold">ANN</text></g>
<rect x="310.5" y="233.5" width="64" height="75" fill="#fff" stroke="#3a3a3a" stroke-width="0.9"/>
<line x1="313.0" y1="244.3" x2="341.9" y2="244.3" stroke="#F4855C" stroke-width="1.3"/>
<circle cx="327.5" cy="244.3" r="1.1" fill="#F4855C"/>
<text transform="translate(344.20,249.20) scale(0.950,1)" font-size="13.8" text-anchor="start" fill="#1a1a1a">20%</text>
<line x1="313.0" y1="262.5" x2="341.9" y2="262.5" stroke="#DE4E78" stroke-width="1.3" stroke-dasharray="7 6.3"/>
<circle cx="327.5" cy="262.5" r="1.1" fill="#DE4E78"/>
<text transform="translate(344.20,267.40) scale(0.950,1)" font-size="13.8" text-anchor="start" fill="#1a1a1a">40%</text>
<line x1="313.0" y1="280.5" x2="341.9" y2="280.5" stroke="#BF2E98" stroke-width="1.3" stroke-dasharray="1.3 1.55"/>
<circle cx="327.5" cy="280.5" r="1.1" fill="#BF2E98"/>
<text transform="translate(344.20,285.40) scale(0.950,1)" font-size="13.8" text-anchor="start" fill="#1a1a1a">60%</text>
<line x1="313.0" y1="298.4" x2="341.9" y2="298.4" stroke="#8A00D0" stroke-width="1.3" stroke-dasharray="7.5 1.9 1.3 1.9"/>
<circle cx="327.5" cy="298.4" r="1.1" fill="#8A00D0"/>
<text transform="translate(344.20,303.30) scale(0.950,1)" font-size="13.8" text-anchor="start" fill="#1a1a1a">80%</text>
</svg>
</body></html>
